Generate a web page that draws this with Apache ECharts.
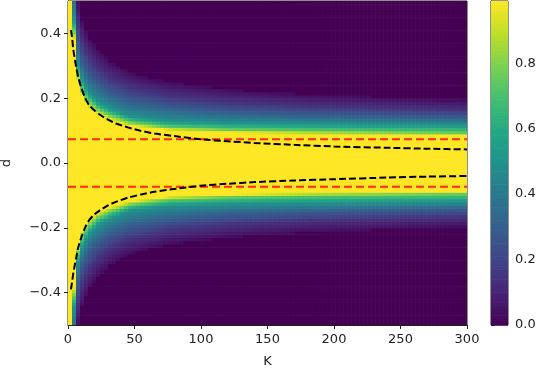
<!DOCTYPE html>
<html>
<head>
<meta charset="utf-8">
<script src="https://cdn.jsdelivr.net/npm/echarts@6/dist/echarts.min.js"></script>
<style>html,body{margin:0;padding:0;background:#fff;}#c{width:542px;height:368px;}</style>
</head>
<body>
<div id="c"></div>
<script>
// ---- tick labels ----
const K_TICKS = [0, 50, 100, 150, 200, 250, 300];
const D_TICKS = [-0.4, -0.2, 0, 0.2, 0.4];
const CBAR_TICKS = [0, 0.2, 0.4, 0.6, 0.8];

// ---- heatmap grid (cell centres) ----
const K_STEP = 3;
const D_STEP = 0.01;
const K_COLS = [];
for (let i = 0; i < 100; i++) K_COLS.push(1.5 + K_STEP * i);
const D_ROWS = [];
for (let j = 0; j < 100; j++) D_ROWS.push(+(-0.495 + D_STEP * j).toFixed(3));

// ---- profile: |d| where each colour level is reached, per K ----
const sampleK      = [1.5, 4.5, 7.5, 10.5, 13.5, 16.5, 22.5, 31.5, 46.5, 76.5, 121.5, 181.5, 241.5, 298.5];
const edgeYellow   = [0.60, 0.38, 0.255, 0.21, 0.185, 0.17, 0.152, 0.134, 0.116, 0.102, 0.095, 0.090, 0.088, 0.086];
const edgeGreen    = [0.62, 0.41, 0.275, 0.23, 0.205, 0.19, 0.168, 0.15, 0.128, 0.112, 0.105, 0.10, 0.097, 0.095];
const edgeTeal     = [0.64, 0.44, 0.30, 0.26, 0.235, 0.215, 0.19, 0.17, 0.145, 0.13, 0.125, 0.122, 0.12, 0.118];
const edgeBlue     = [0.66, 0.52, 0.36, 0.31, 0.285, 0.265, 0.24, 0.215, 0.19, 0.17, 0.155, 0.148, 0.143, 0.14];
const edgeIndigo   = [0.68, 0.60, 0.43, 0.375, 0.345, 0.32, 0.29, 0.26, 0.232, 0.205, 0.188, 0.175, 0.168, 0.163];
const edgePurple   = [0.70, 0.70, 0.50, 0.44, 0.41, 0.385, 0.35, 0.315, 0.28, 0.25, 0.228, 0.212, 0.203, 0.196];
const levelValues  = [0.99, 0.75, 0.5, 0.3, 0.15, 0.03];

// ---- dashed curves ----
const upperCurveK = [2.2, 3, 4, 6, 8, 10, 13, 16, 20, 24, 30, 36, 45, 55, 65, 80, 100, 120, 140, 170, 200, 240, 270, 300];
const upperCurveD = [0.41, 0.39, 0.35, 0.30, 0.26, 0.232, 0.2, 0.178, 0.162, 0.149, 0.134, 0.122, 0.11, 0.099, 0.091, 0.083, 0.073, 0.067, 0.062, 0.056, 0.051, 0.047, 0.044, 0.042];
const lowerCurveK = [2.2, 3, 4, 6, 8, 10, 13, 16, 20, 24, 30, 36, 45, 55, 65, 80, 100, 120, 140, 170, 200, 240, 270, 300];
const lowerCurveD = [-0.39, -0.37, -0.34, -0.295, -0.256, -0.23, -0.198, -0.176, -0.158, -0.146, -0.131, -0.12, -0.107, -0.097, -0.089, -0.08, -0.07, -0.064, -0.059, -0.054, -0.05, -0.045, -0.042, -0.04];
const redLineD = [0.073, -0.073];

// ---- build cell table ----
function lerpTable(xs, ys, x) {
  if (x <= xs[0]) return ys[0];
  for (let i = 1; i < xs.length; i++) {
    if (x <= xs[i]) { const t = (x - xs[i-1]) / (xs[i] - xs[i-1]); return ys[i-1] + t * (ys[i] - ys[i-1]); }
  }
  return ys[ys.length - 1];
}
const edgeTables = [edgeYellow, edgeGreen, edgeTeal, edgeBlue, edgeIndigo, edgePurple];
const cells = [];
K_COLS.forEach(k => {
  const edges = edgeTables.map(t => lerpTable(sampleK, t, k));
  D_ROWS.forEach(d => {
    const a = Math.abs(d);
    let v;
    if (a <= edges[0]) v = levelValues[0];
    else if (a >= edges[5]) v = 0;
    else {
      v = 0;
      for (let i = 1; i < 6; i++) {
        if (a <= edges[i]) { const t = (a - edges[i-1]) / (edges[i] - edges[i-1]); v = levelValues[i-1] + t * (levelValues[i] - levelValues[i-1]); break; }
      }
    }
    cells.push([k, d, v]);
  });
});
const cbarCells = [];
for (let i = 0; i < 99; i++) cbarCells.push([0.5, i * 0.01, i * 0.01 + 0.005]);

const VIRIDIS = ['#440154','#482475','#414487','#355f8d','#2a788e','#21918c','#22a884','#44bf70','#7ad151','#bddf26','#fde725'];
const FONT = 'DejaVu Sans';
const AX = '#222';

const chart = echarts.init(document.getElementById('c'), null, {renderer: 'canvas'});
chart.setOption({
  animation: false,
  backgroundColor: '#fff',
  visualMap: {show: false, type: 'continuous', min: 0, max: 0.99, dimension: 2, seriesIndex: [0, 1], inRange: {color: VIRIDIS}},
  grid: [
    {left: 68, top: 1, width: 399, height: 324, show: true, borderColor: AX, borderWidth: 1, backgroundColor: 'transparent', containLabel: false, outerBoundsMode: 'none'},
    {left: 491, top: 1, width: 17, height: 324, show: true, borderColor: AX, borderWidth: 1, backgroundColor: 'transparent', containLabel: false, outerBoundsMode: 'none'}
  ],
  xAxis: [
    {gridIndex: 0, type: 'value', min: 0, max: 300, interval: 50,
     name: 'K', nameLocation: 'middle', nameGap: 30, nameTextStyle: {fontFamily: FONT, fontSize: 13, color: AX},
     axisLine: {show: true, onZero: false, lineStyle: {color: AX, width: 1}},
     axisTick: {show: true, length: 4, lineStyle: {color: AX}},
     axisLabel: {fontFamily: FONT, fontSize: 13, color: AX, margin: 8, customValues: K_TICKS},
     splitLine: {show: false}},
    {gridIndex: 1, type: 'value', min: 0, max: 1, show: false}
  ],
  yAxis: [
    {gridIndex: 0, type: 'value', min: -0.5, max: 0.5,
     name: 'd', nameLocation: 'middle', nameGap: 55, nameTextStyle: {fontFamily: FONT, fontSize: 13, color: AX},
     axisLine: {show: true, onZero: false, lineStyle: {color: AX, width: 1}},
     axisTick: {show: true, length: 4, lineStyle: {color: AX}, customValues: D_TICKS},
     axisLabel: {fontFamily: FONT, fontSize: 13, color: AX, margin: 7, customValues: D_TICKS,
       formatter: v => (v < -1e-9 ? '\u2212' : '') + Math.abs(v).toFixed(1)},
     splitLine: {show: false}},
    {gridIndex: 1, type: 'value', min: 0, max: 0.99, position: 'right',
     axisLine: {show: true, lineStyle: {color: AX, width: 1}},
     axisTick: {show: true, length: 4, lineStyle: {color: AX}, customValues: CBAR_TICKS},
     axisLabel: {fontFamily: FONT, fontSize: 13, color: AX, margin: 7, customValues: CBAR_TICKS, formatter: v => v.toFixed(1)},
     splitLine: {show: false}}
  ],
  series: [
    {type: 'custom', xAxisIndex: 0, yAxisIndex: 0, data: cells, encode: {x: 0, y: 1}, progressive: 0, clip: true, z: 1,
     renderItem: (params, api) => {
       const k = api.value(0), d = api.value(1);
       const p1 = api.coord([k - K_STEP / 2, d + D_STEP / 2]);
       const p2 = api.coord([k + K_STEP / 2, d - D_STEP / 2]);
       return {type: 'rect', shape: {x: p1[0], y: p1[1], width: p2[0] - p1[0] + 0.6, height: p2[1] - p1[1] + 0.6},
               style: {fill: api.visual('color')}};
     }},
    {type: 'custom', xAxisIndex: 1, yAxisIndex: 1, data: cbarCells, encode: {x: 0, y: 1}, progressive: 0, z: 1,
     renderItem: (params, api) => {
       const v = api.value(1);
       const p1 = api.coord([0, v + 0.01]);
       const p2 = api.coord([1, v]);
       return {type: 'rect', shape: {x: p1[0], y: p1[1], width: p2[0] - p1[0], height: p2[1] - p1[1] + 0.6},
               style: {fill: api.visual('color')}};
     }},
    {type: 'line', xAxisIndex: 0, yAxisIndex: 0, data: [[0, redLineD[0]], [300, redLineD[0]]], symbol: 'none', z: 3,
     lineStyle: {color: '#ff2a0a', width: 2, type: [8, 4]}},
    {type: 'line', xAxisIndex: 0, yAxisIndex: 0, data: [[0, redLineD[1]], [300, redLineD[1]]], symbol: 'none', z: 3,
     lineStyle: {color: '#ff2a0a', width: 2, type: [8, 4]}},
    {type: 'line', xAxisIndex: 0, yAxisIndex: 0, data: upperCurveK.map((k, i) => [k, upperCurveD[i]]), symbol: 'none', z: 4, smooth: 0.2,
     lineStyle: {color: '#000', width: 2, type: [7, 3]}},
    {type: 'line', xAxisIndex: 0, yAxisIndex: 0, data: lowerCurveK.map((k, i) => [k, lowerCurveD[i]]), symbol: 'none', z: 4, smooth: 0.2,
     lineStyle: {color: '#000', width: 2, type: [7, 3]}}
  ]
});
</script>
</body>
</html>
